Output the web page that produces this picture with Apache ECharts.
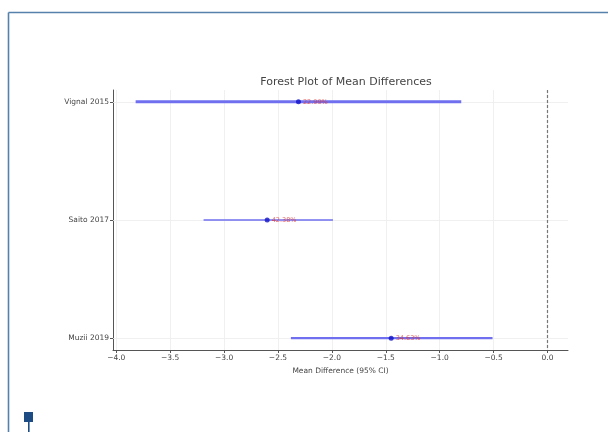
<!DOCTYPE html>
<html>
<head>
<meta charset="utf-8">
<script src="https://cdn.jsdelivr.net/npm/echarts@6/dist/echarts.min.js"></script>
<style>html,body{margin:0;padding:0;background:#fff;}#c{width:608px;height:432px;}</style>
</head>
<body>
<div id="c"></div>
<script>
const studies = ['Vignal 2015', 'Saito 2017', 'Muzii 2019'];
const meanDiff = [-2.31, -2.60, -1.45];
const ciLower = [-3.82, -3.19, -2.38];
const ciUpper = [-0.80, -1.99, -0.51];
const weights = ['22.99%', '42.38%', '34.63%'];
const xTicks = [-4.0, -3.5, -3.0, -2.5, -2.0, -1.5, -1.0, -0.5, 0.0];

const font = 'DejaVu Sans';
const barWidths = [3, 1.6, 2.2];

const chart = echarts.init(document.getElementById('c'), null, {renderer: 'canvas'});

const barData = studies.map((s, i) => [ciLower[i], ciUpper[i], i]);
const pointData = studies.map((s, i) => ({value: [meanDiff[i], i], name: weights[i]}));

const gridLines = xTicks.map(v => ({xAxis: v}))
  .concat(studies.map((s, i) => ({yAxis: i})));

chart.setOption({
  animation: false,
  backgroundColor: '#fff',
  title: {
    text: 'Forest Plot of Mean Differences',
    left: 341, top: 72, textAlign: 'center',
    textStyle: {fontFamily: font, fontSize: 11, fontWeight: 'normal', color: '#444'}
  },
  grid: {left: 113, right: 40, top: 90, bottom: 82},
  xAxis: {
    type: 'value', min: -4.03, max: 0.19,
    name: 'Mean Difference (95% CI)', nameLocation: 'middle', nameGap: 15,
    nameTextStyle: {fontFamily: font, fontSize: 7.5, color: '#444'},
    axisLine: {show: true, onZero: false, lineStyle: {color: '#555', width: 1}},
    axisTick: {show: true, customValues: xTicks, length: 3, lineStyle: {color: '#555'}},
    axisLabel: {customValues: xTicks, fontFamily: font, fontSize: 7.5, color: '#444', margin: 4,
      formatter: v => (v < 0 ? '\u2212' : '') + Math.abs(v).toFixed(1)},
    splitLine: {show: false}
  },
  yAxis: {
    type: 'value', min: -0.1, max: 2.1, inverse: true,
    axisLine: {show: true, onZero: false, lineStyle: {color: '#555', width: 1}},
    axisTick: {show: true, customValues: [0, 1, 2], length: 3, lineStyle: {color: '#555'}},
    axisLabel: {customValues: [0, 1, 2], fontFamily: font, fontSize: 7.5, color: '#444', margin: 4,
      formatter: v => studies[Math.round(v)]},
    splitLine: {show: false}
  },
  graphic: [
    {type: 'line', shape: {x1: 8.5, y1: 12.5, x2: 608, y2: 12.5}, style: {stroke: '#5681ad', lineWidth: 1.6}, z: 100},
    {type: 'line', shape: {x1: 8.5, y1: 12.5, x2: 8.5, y2: 432}, style: {stroke: '#5681ad', lineWidth: 1.6}, z: 100},
    {type: 'rect', shape: {x: 24, y: 412, width: 9, height: 10}, style: {fill: '#1d4c85'}, z: 100},
    {type: 'rect', shape: {x: 28, y: 421, width: 1.6, height: 11}, style: {fill: '#1d4c85'}, z: 100}
  ],
  series: [
    {
      type: 'custom',
      data: barData,
      encode: {x: [0, 1], y: 2},
      z: 3,
      renderItem: (params, api) => {
        const p1 = api.coord([api.value(0), api.value(2)]);
        const p2 = api.coord([api.value(1), api.value(2)]);
        return {
          type: 'line',
          shape: {x1: p1[0], y1: p1[1], x2: p2[0], y2: p2[1]},
          style: {stroke: '#6f6ff0', lineWidth: barWidths[params.dataIndex]}
        };
      }
    },
    {
      type: 'scatter',
      data: pointData,
      symbolSize: 5,
      z: 5,
      itemStyle: {color: '#1010c8'},
      label: {show: true, position: 'right', distance: 2, formatter: p => p.name,
        fontFamily: font, fontSize: 6.5, color: '#e03535'},
      markLine: {
        silent: true, symbol: 'none', z: 1,
        label: {show: false},
        lineStyle: {color: '#ececec', width: 0.8, type: 'solid'},
        data: gridLines
      }
    },
    {
      type: 'scatter',
      data: [],
      markLine: {
        silent: true, symbol: 'none', z: 2,
        label: {show: false},
        lineStyle: {color: '#777', width: 1.2, type: [3, 2]},
        data: [{xAxis: 0}]
      }
    }
  ]
});
</script>
</body>
</html>
